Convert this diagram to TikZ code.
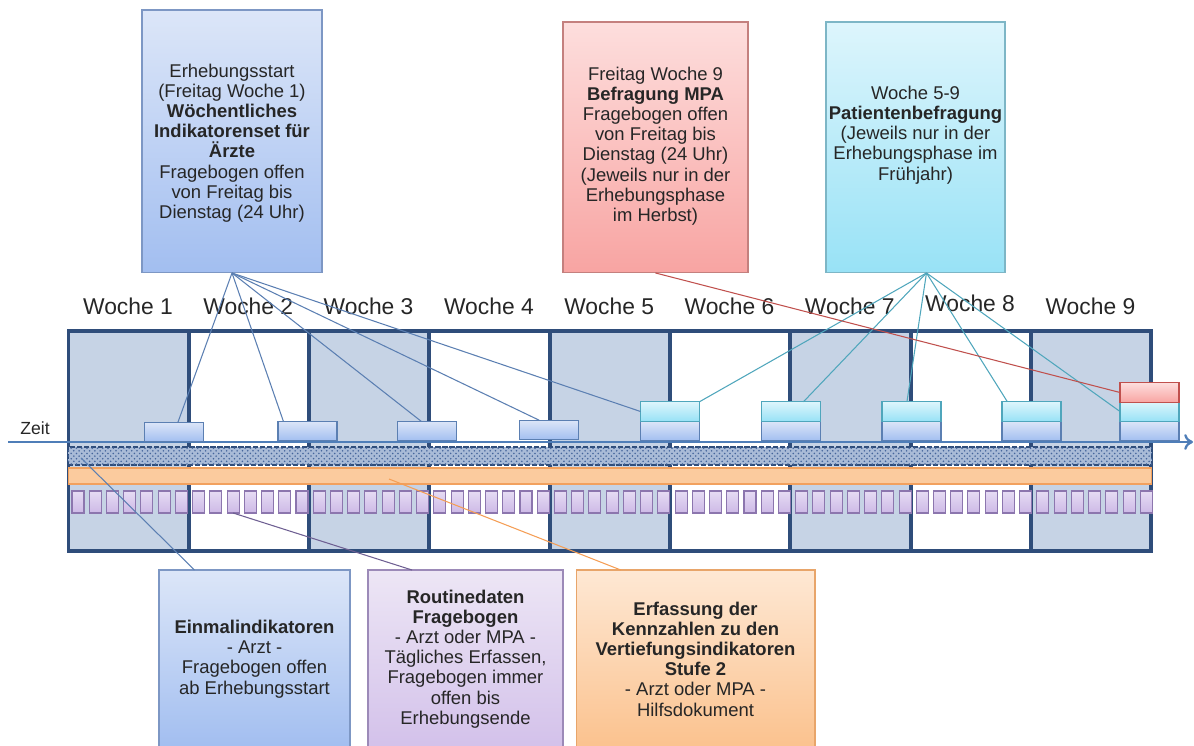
\documentclass[tikz,border=0pt]{standalone}
\usepackage{fontspec}
\setmainfont{Liberation Sans}
\usetikzlibrary{patterns,arrows.meta}
\definecolor{weekfill}{HTML}{C6D3E5}
\definecolor{weekline}{HTML}{2F4D7A}
\definecolor{timeline}{HTML}{4F7EB8}
\definecolor{bandfill}{HTML}{A9BBD7}
\definecolor{banddot}{HTML}{46669C}
\definecolor{orangefill}{HTML}{FBCB9E}
\definecolor{orangeline}{HTML}{F2A15E}
\definecolor{daytop}{HTML}{E6DCF4}
\definecolor{daybot}{HTML}{CDB9E6}
\definecolor{dayline}{HTML}{8C76AE}
\definecolor{bluetop}{HTML}{DCE6F8}
\definecolor{bluebot}{HTML}{A2BEF0}
\definecolor{blueline}{HTML}{7D97C4}
\definecolor{cyantop}{HTML}{DDF5FC}
\definecolor{cyanbot}{HTML}{98E2F6}
\definecolor{cyanline}{HTML}{7DB6C6}
\definecolor{redtop}{HTML}{FDDEDD}
\definecolor{redbot}{HTML}{F8A4A2}
\definecolor{redline}{HTML}{C4807E}
\definecolor{purptop}{HTML}{EDE6F5}
\definecolor{purpbot}{HTML}{D3C1EA}
\definecolor{purpline}{HTML}{9C8AB8}
\definecolor{orgtop}{HTML}{FEE8D4}
\definecolor{orgbot}{HTML}{FBC28E}
\definecolor{orgline}{HTML}{E8A56A}
\definecolor{conblue}{HTML}{5B7FB2}
\definecolor{concyan}{HTML}{4FA6BC}
\definecolor{conred}{HTML}{C0504D}
\definecolor{conpurp}{HTML}{6E5F92}
\definecolor{conorg}{HTML}{F59E55}
\definecolor{txt}{HTML}{262626}
\begin{document}
\begin{tikzpicture}[x=0.02cm,y=-0.02cm,inner sep=0pt,outer sep=0pt,
weekcol/.style={draw=weekline,line width=2.2pt,rectangle,minimum width=2.406cm,minimum height=4.4cm},
weeklabel/.style={anchor=base,text=txt,font=\fontsize{13}{15}\selectfont},
ticket/.style={draw,line width=0.6pt,rectangle,minimum width=1.18cm,minimum height=0.39cm},
aerzte/.style={ticket,draw=conblue,top color=bluetop,bottom color=bluebot},
patient/.style={ticket,draw=concyan,top color=cyantop,bottom color=cyanbot},
mpa/.style={ticket,draw=conred,top color=redtop,bottom color=redbot},
dayrect/.style={draw=dayline,line width=0.6pt,rectangle,minimum width=0.24cm,minimum height=0.44cm,top color=daytop,bottom color=daybot},
infobox/.style={draw,line width=0.6pt,rectangle,align=center,text=txt,font=\fontsize{10.5}{11.5}\selectfont},
infotext/.style={align=center,text=txt,font=\fontsize{10.5}{11.5}\selectfont},
link/.style={line width=0.6pt}]

\useasboundingbox (0,0) rectangle (1194,746);

\foreach \i/\f/\yy in {1/weekfill/315,2/white/315,3/weekfill/315,4/white/315,5/weekfill/315,6/white/315,7/weekfill/315,8/white/312,9/weekfill/315}{
  \draw (68.5+120.3*\i-60.15,441) node[weekcol,fill=\f] (w\i) {};
  \draw (128+120.3*\i-120.3,\yy) node[weeklabel] (wl\i) {Woche \i};
}

\draw (610,456) node[rectangle,minimum width=21.68cm,minimum height=0.36cm,fill=bandfill,
  postaction={pattern=crosshatch dots,pattern color=banddot},draw=weekline,line width=0.6pt,dash pattern=on 3pt off 1pt] (band) {};
\draw (610,476) node[rectangle,minimum width=21.68cm,minimum height=0.32cm,fill=orangefill,draw=orangeline,line width=0.6pt] (bar) {};
\foreach \i in {0,...,62}
  \draw (78+17.23*\i,502) node[dayrect] (d\i) {};

\coordinate (t0) at (8,442);
\coordinate (t1) at (1193,442);
\draw[-{To[length=5pt,width=9pt]},timeline,line width=1.3pt] (t0) -- (t1);
\draw (35,428) node[text=txt,font=\fontsize{10}{12}\selectfont] (zeit) {Zeit};

\draw (174,432) node[aerzte] (a1) {};
\draw (307.5,431) node[aerzte] (a2) {};
\draw (427,431) node[aerzte] (a3) {};
\draw (549,430) node[aerzte] (a4) {};
\foreach \i/\xx in {5/670,6/791,7/911.5,8/1031.5,9/1149.5}{
  \draw (\xx,431) node[aerzte] (a\i) {};
  \draw (\xx,411.5) node[patient] (c\i) {};
}
\draw (1149.5,392.5) node[mpa] (r9) {};

\draw (232,141.5) node[infobox,draw=blueline,top color=bluetop,bottom color=bluebot,minimum width=3.6cm,minimum height=5.26cm] (arztbox) {};
\draw (232,143) node[infotext] (arzttext) {Erhebungsstart\\(Freitag Woche 1)\\\textbf{Wöchentliches}\\\textbf{Indikatorenset für}\\\textbf{Ärzte}\\Fragebogen offen\\von Freitag bis\\Dienstag (24 Uhr)};
\draw (655.5,147.5) node[infobox,draw=redline,top color=redtop,bottom color=redbot,minimum width=3.7cm,minimum height=5.02cm] (mpabox) {};
\draw (655.5,146) node[infotext] (mpatext) {Freitag Woche 9\\\textbf{Befragung MPA}\\Fragebogen offen\\von Freitag bis\\Dienstag (24 Uhr)\\(Jeweils nur in der\\Erhebungsphase\\im Herbst)};
\draw (915.5,147.5) node[infobox,draw=cyanline,top color=cyantop,bottom color=cyanbot,minimum width=3.58cm,minimum height=5.02cm] (patbox) {};
\draw (915.5,135) node[infotext] (pattext) {Woche 5-9\\\textbf{Patientenbefragung}\\(Jeweils nur in der\\Erhebungsphase im\\Frühjahr)};

\draw (254.5,659) node[infobox,draw=blueline,top color=bluetop,bottom color=bluebot,minimum width=3.82cm,minimum height=3.56cm] (einmbox) {\textbf{Einmalindikatoren}\\- Arzt -\\Fragebogen offen\\ab Erhebungsstart};
\draw (465.5,659) node[infobox,draw=purpline,top color=purptop,bottom color=purpbot,minimum width=3.9cm,minimum height=3.56cm] (routbox) {\textbf{Routinedaten}\\\textbf{Fragebogen}\\- Arzt oder MPA -\\Tägliches Erfassen,\\Fragebogen immer\\offen bis\\Erhebungsende};
\draw (695.5,659) node[infobox,draw=orgline,top color=orgtop,bottom color=orgbot,minimum width=4.78cm,minimum height=3.56cm] (erfbox) {\textbf{Erfassung der}\\\textbf{Kennzahlen zu den}\\\textbf{Vertiefungsindikatoren}\\\textbf{Stufe 2}\\- Arzt oder MPA -\\Hilfsdokument};

\foreach \t in {a1.68,a2.158,a3.121,a4.135,c5.west}
  \draw[link,conblue] (arztbox.south) -- (\t);
\foreach \t in {c5.north east,c6.38,c7.115,c8.158,c9.west}
  \draw[link,concyan] (patbox.-85) -- (\t);
\draw[link,conred] (mpabox.south) -- (r9.west);

\coordinate (bandpt) at (81,458);
\coordinate (barpt) at (389,479);
\draw[link,conblue] (bandpt) -- (einmbox.124);
\draw[link,conpurp] (d9.south) -- (routbox.121);
\draw[link,conorg] (barpt) -- (erfbox.130);
\end{tikzpicture}
\end{document}
